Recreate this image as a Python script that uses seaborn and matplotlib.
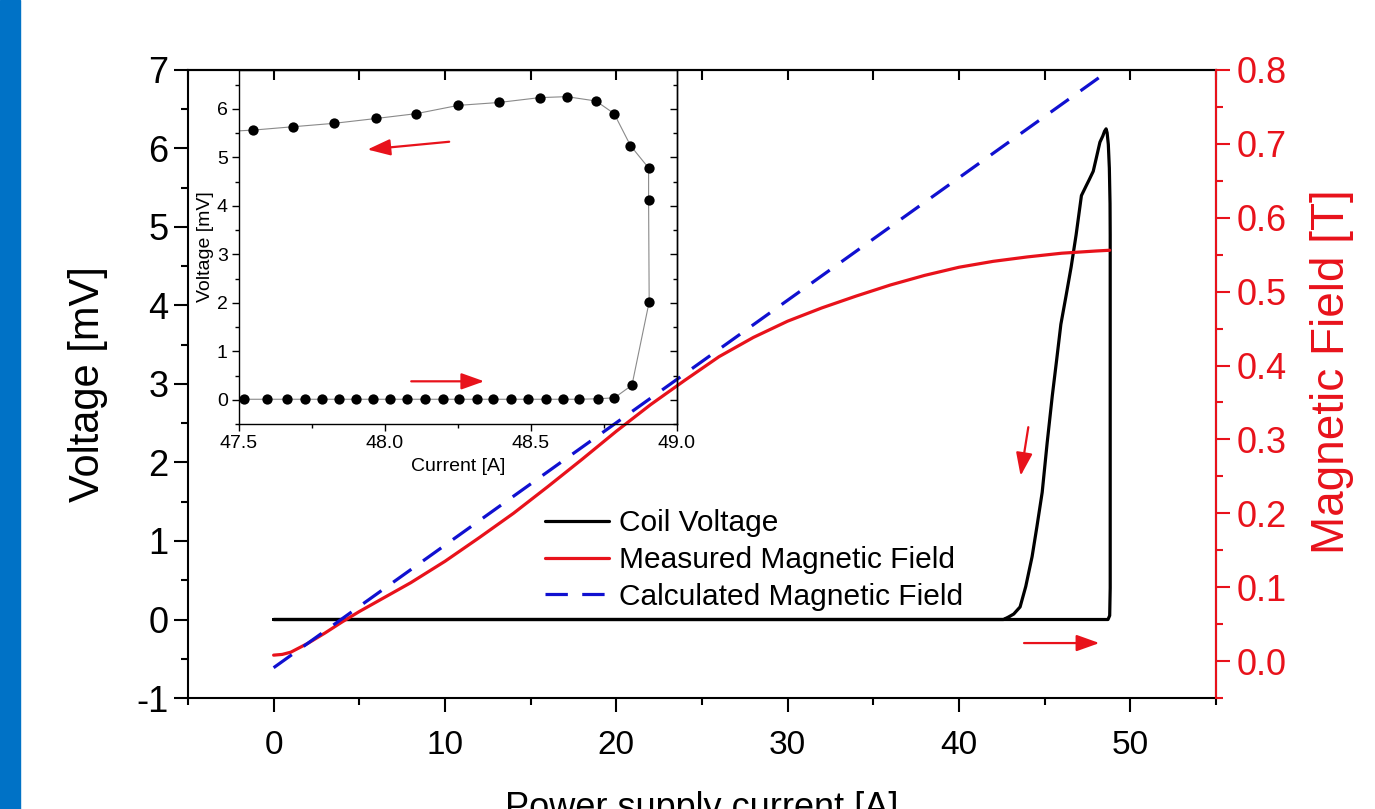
import matplotlib
matplotlib.use('Agg')

import matplotlib.pyplot as plt
from matplotlib.lines import Line2D
from matplotlib.patches import Rectangle
from matplotlib.ticker import MultipleLocator, FormatStrFormatter
import seaborn as sns

# main plot: coil voltage loop (current [A], voltage [mV]) in path order
coil_current = [0, 48.70, 48.80, 48.83, 48.83, 48.82, 48.78, 48.72, 48.65, 48.59, 48.50,
                48.40, 48.23, 48.02, 47.84, 47.60, 47.44, 47.15, 46.84, 46.55, 46.25,
                45.95, 45.70, 45.45, 45.15, 44.86, 44.55, 44.27, 43.90, 43.57, 43.20,
                42.88, 42.60, 0]
coil_voltage = [0, 0, 0.05, 0.4, 4.9, 5.3, 5.75, 6.05, 6.2, 6.25, 6.22,
                6.16, 6.08, 5.88, 5.71, 5.60, 5.53, 5.40, 4.90, 4.49, 4.12,
                3.76, 3.30, 2.85, 2.25, 1.62, 1.18, 0.80, 0.42, 0.16, 0.07,
                0.03, 0.0, 0]

# measured field [T]
meas_current = [0, 0.5, 1, 2, 3, 4, 5, 6, 8, 10, 12, 14, 16, 18, 20, 22, 24, 26,
                28, 30, 32, 34, 36, 38, 40, 42, 44, 46, 48, 48.8]
meas_field = [0.008, 0.009, 0.012, 0.024, 0.038, 0.053, 0.067, 0.080, 0.106, 0.135,
              0.167, 0.200, 0.236, 0.273, 0.311, 0.347, 0.380, 0.412, 0.438, 0.460,
              0.478, 0.494, 0.509, 0.522, 0.533, 0.541, 0.547, 0.552, 0.555, 0.556]

# calculated field [T]
calc_current = [0, 48.8]
calc_field = [-0.009, 0.8]

# inset: zoom on the transition, path order
inset_current = [47.44, 47.516, 47.596, 47.665, 47.725, 47.784, 47.843, 47.902, 47.960,
                 48.017, 48.077, 48.137, 48.199, 48.255, 48.314, 48.371, 48.432, 48.491,
                 48.550, 48.609, 48.666, 48.730, 48.786, 48.846, 48.905, 48.903, 48.903,
                 48.841, 48.785, 48.723, 48.623, 48.530, 48.391, 48.251, 48.108, 47.970,
                 47.826, 47.686, 47.548, 47.42]
inset_voltage = [0.01, 0.01, 0.01, 0.01, 0.01, 0.01, 0.01, 0.01, 0.01,
                 0.01, 0.01, 0.01, 0.01, 0.01, 0.01, 0.01, 0.01, 0.01,
                 0.01, 0.01, 0.01, 0.02, 0.04, 0.30, 2.02, 4.12, 4.78,
                 5.24, 5.90, 6.16, 6.25, 6.23, 6.13, 6.07, 5.90, 5.80,
                 5.70, 5.63, 5.56, 5.52]

RED = '#E8121B'
BLUE = '#1010D0'

sns.set_theme(style='ticks')
plt.rcParams['font.family'] = ['Liberation Sans', 'DejaVu Sans']
plt.rcParams['axes.linewidth'] = 1.5
plt.rcParams['axes.unicode_minus'] = False
for k in ['text.color', 'axes.labelcolor', 'xtick.color', 'ytick.color', 'axes.edgecolor']:
    plt.rcParams[k] = 'black'

fig = plt.figure(figsize=(13.75, 8.09), dpi=100)
fig.add_artist(Rectangle((0, 0), 20 / 1375, 1, transform=fig.transFigure,
                         color='#0072C6', zorder=0))

ax = fig.add_axes([0.1367, 0.1372, 0.7476, 0.7763])
ax.set_facecolor('white')
sns.lineplot(x=coil_current, y=coil_voltage, ax=ax, sort=False, estimator=None,
             color='black', linewidth=2.3)
ax.set_xlim(-5, 55)
ax.set_ylim(-1, 7)
ax.xaxis.set_major_locator(MultipleLocator(10))
ax.xaxis.set_minor_locator(MultipleLocator(5))
ax.yaxis.set_major_locator(MultipleLocator(1))
ax.yaxis.set_minor_locator(MultipleLocator(0.5))
ax.tick_params(which='major', direction='out', length=10, width=1.5, color='black')
ax.tick_params(which='minor', direction='out', length=5, width=1.5, color='black')
ax.tick_params(axis='x', which='major', labelsize=24, pad=13)
ax.tick_params(axis='y', which='major', labelsize=26, pad=4)
ax.set_xlabel('Power supply current [A]', fontsize=26)
ax.set_ylabel('Voltage [mV]', fontsize=30)
ax.xaxis.set_label_coords(0.5, -0.148)
ax.yaxis.set_label_coords(-0.078, 0.5)

top = ax.secondary_xaxis('top')
top.xaxis.set_major_locator(MultipleLocator(5))
top.tick_params(direction='in', length=7, width=1.5, labeltop=False)

ax2 = ax.twinx()
sns.lineplot(x=meas_current, y=meas_field, ax=ax2, sort=False, estimator=None,
             color=RED, linewidth=2.3)
sns.lineplot(x=calc_current, y=calc_field, ax=ax2, sort=False, estimator=None,
             color=BLUE, linewidth=2.3)
ax2.lines[-1].set_dashes((7, 4.5))
ax2.set_ylim(-0.05, 0.8)
ax2.yaxis.set_major_locator(MultipleLocator(0.1))
ax2.yaxis.set_minor_locator(MultipleLocator(0.05))
ax2.yaxis.set_major_formatter(FormatStrFormatter('%.1f'))
ax2.tick_params(which='major', direction='out', length=10, width=1.5, labelsize=26,
                pad=5, color=RED, labelcolor=RED)
ax2.tick_params(which='minor', direction='out', length=5, width=1.5, color=RED)
ax2.set_ylabel('Magnetic Field [T]', fontsize=33, color=RED)
ax2.yaxis.set_label_coords(1.092, 0.519)
ax2.spines['right'].set_color(RED)
for side in ['left', 'top', 'bottom']:
    ax2.spines[side].set_visible(False)

# direction arrows
arrow = dict(arrowstyle='-|>,head_length=0.7,head_width=0.25', color=RED, lw=1.6,
             mutation_scale=20, shrinkA=0, shrinkB=0)
ax.annotate('', xy=(43.6, 1.83), xytext=(44.05, 2.45), arrowprops=arrow)
ax.annotate('', xy=(48.2, -0.3), xytext=(43.8, -0.3), arrowprops=arrow)

handles = [Line2D([], [], color='black', lw=2.3),
           Line2D([], [], color=RED, lw=2.3),
           Line2D([], [], color=BLUE, lw=2.3, dashes=(7, 4.5))]
labels = ['Coil Voltage', 'Measured Magnetic Field', 'Calculated Magnetic Field']
ax2.legend(handles, labels, loc='upper left', bbox_to_anchor=(545 / 1375, 1 - 509 / 809),
           bbox_transform=fig.transFigure, frameon=False, fontsize=21.5,
           handlelength=2.15, handletextpad=0.33, labelspacing=0.3,
           borderpad=0, borderaxespad=0)

# inset
axi = fig.add_axes([0.1738, 0.4759, 0.3185, 0.4376])
axi.set_facecolor('none')
sns.lineplot(x=inset_current, y=inset_voltage, ax=axi, sort=False, estimator=None,
             color='#8a8a8a', linewidth=0.8)
sns.scatterplot(x=inset_current, y=inset_voltage, ax=axi, color='black', s=55,
                edgecolor='black', linewidth=0, zorder=3)
axi.set_xlim(47.5, 49.0)
axi.set_ylim(-0.5, 6.8)
axi.xaxis.set_major_locator(MultipleLocator(0.5))
axi.xaxis.set_minor_locator(MultipleLocator(0.25))
axi.xaxis.set_major_formatter(FormatStrFormatter('%.1f'))
axi.yaxis.set_major_locator(MultipleLocator(1))
axi.yaxis.set_minor_locator(MultipleLocator(0.5))
axi.tick_params(which='both', direction='out', width=1.0, labelsize=14, pad=3)
axi.tick_params(which='major', length=5)
axi.tick_params(which='minor', length=3)
axi.set_xlabel('Current [A]', fontsize=14)
axi.set_ylabel('Voltage [mV]', fontsize=14, labelpad=2)
for s in axi.spines.values():
    s.set_linewidth(1.0)
    s.set_color('black')
right = axi.secondary_yaxis('right')
right.yaxis.set_major_locator(MultipleLocator(1))
right.yaxis.set_minor_locator(MultipleLocator(0.5))
right.tick_params(which='both', direction='in', width=1.0, labelright=False)
right.tick_params(which='major', length=5)
right.tick_params(which='minor', length=3)
right.spines['right'].set_linewidth(1.0)
axi.annotate('', xy=(47.94, 5.16), xytext=(48.22, 5.32), arrowprops=arrow)
axi.annotate('', xy=(48.34, 0.38), xytext=(48.09, 0.38), arrowprops=arrow)

fig.savefig('out.png', dpi=100)
